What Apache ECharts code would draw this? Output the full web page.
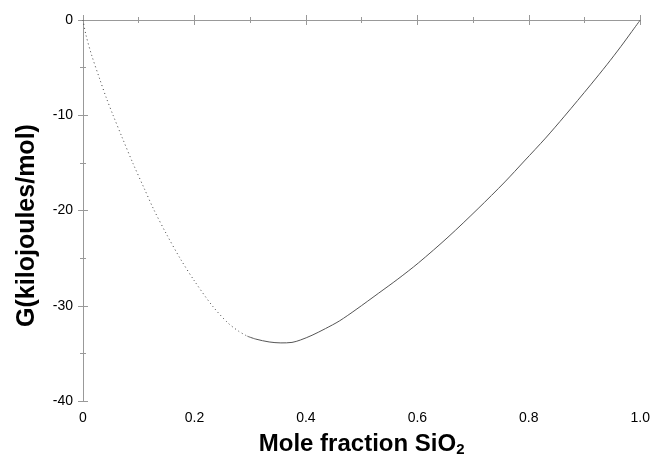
<!DOCTYPE html>
<html>
<head>
<meta charset="utf-8">
<script src="https://cdn.jsdelivr.net/npm/echarts@6/dist/echarts.min.js"></script>
<style>
html,body{margin:0;padding:0;background:#fff;}
#chart{width:653px;height:462px;}
</style>
</head>
<body>
<div id="chart"></div>
<script>
// Dotted (metastable) branch: [mole fraction SiO2, G kJ/mol]
var dottedX = [0, 0.005, 0.015, 0.03, 0.042, 0.054, 0.07, 0.09, 0.11, 0.127, 0.15, 0.175, 0.2, 0.232, 0.26, 0.28, 0.295];
var dottedG = [0, -1.5, -3.6, -6.2, -8.2, -10.0, -12.3, -15.1, -17.7, -19.9, -22.5, -25.1, -27.4, -30.0, -31.8, -32.7, -33.2];
// Solid branch
var solidX = [0.295, 0.31, 0.334, 0.355, 0.375, 0.39, 0.411, 0.435, 0.46, 0.49, 0.53, 0.565, 0.602, 0.655, 0.709, 0.757, 0.792, 0.83, 0.864, 0.911, 0.94, 0.965, 0.985, 1.0];
var solidG = [-33.2, -33.5, -33.8, -33.9, -33.85, -33.6, -33.1, -32.4, -31.6, -30.4, -28.7, -27.2, -25.5, -22.8, -19.8, -17.0, -14.8, -12.4, -10.1, -6.8, -4.7, -2.8, -1.2, 0];
var xTickLabels = {"0": "0", "0.2": "0.2", "0.4": "0.4", "0.6": "0.6", "0.8": "0.8", "1": "1.0"};

function pairs(xs, ys) { return xs.map(function (x, i) { return [x, ys[i]]; }); }

var axisGray = '#999999';
var font = 'Liberation Sans, Arial, Helvetica, sans-serif';

var chart = echarts.init(document.getElementById('chart'), null, {renderer: 'canvas'});
var commonAxis = {
  axisLine: {show: true, lineStyle: {color: axisGray, width: 1}},
  axisTick: {show: true, inside: true, length: 5, lineStyle: {color: axisGray}},
  minorTick: {show: true, splitNumber: 2, length: 3, lineStyle: {color: axisGray}},
  splitLine: {show: false},
  minorSplitLine: {show: false}
};
chart.setOption({
  animation: false,
  backgroundColor: '#ffffff',
  grid: {left: 83, right: 10, top: 20, bottom: 54, containLabel: false},
  xAxis: [
    Object.assign({}, commonAxis, {
      type: 'value', min: 0, max: 1, interval: 0.2, position: 'bottom',
      axisLabel: {show: true, color: '#000', fontSize: 14, fontFamily: font, margin: 10,
        formatter: function (v) { return xTickLabels[String(+v.toFixed(1))] || String(v); }},
      name: 'Mole fraction SiO{sub|2}', nameLocation: 'middle', nameGap: 31,
      nameTextStyle: {color: '#000', fontSize: 24, fontWeight: 'bold', fontFamily: font,
        rich: {sub: {fontSize: 15, fontWeight: 'bold', fontFamily: font, color: '#000', verticalAlign: 'bottom', padding: [10, 0, 0, 0]}}}
    }),
    Object.assign({}, commonAxis, {
      type: 'value', min: 0, max: 1, interval: 0.2, position: 'top',
      axisLabel: {show: false}
    })
  ],
  yAxis: [
    Object.assign({}, commonAxis, {
      type: 'value', min: -40, max: 0, interval: 10, position: 'left',
      axisLabel: {show: true, color: '#000', fontSize: 14, fontFamily: font, margin: 10},
      name: 'G(kilojoules/mol)', nameLocation: 'middle', nameGap: 43,
      nameTextStyle: {color: '#000', fontSize: 25, fontWeight: 'bold', fontFamily: font, padding: [0, 30, 0, 0]}
    }),
    Object.assign({}, commonAxis, {
      type: 'value', min: -40, max: 0, interval: 10, position: 'right',
      axisLabel: {show: false}
    })
  ],
  series: [
    {
      type: 'line', data: pairs(dottedX, dottedG), showSymbol: false, smooth: 0.3,
      lineStyle: {color: '#444', width: 1, type: [1, 3]}, xAxisIndex: 0, yAxisIndex: 0
    },
    {
      type: 'line', data: pairs(solidX, solidG), showSymbol: false, smooth: 0.3,
      lineStyle: {color: '#555', width: 1}, xAxisIndex: 0, yAxisIndex: 0
    }
  ]
});
</script>
</body>
</html>
